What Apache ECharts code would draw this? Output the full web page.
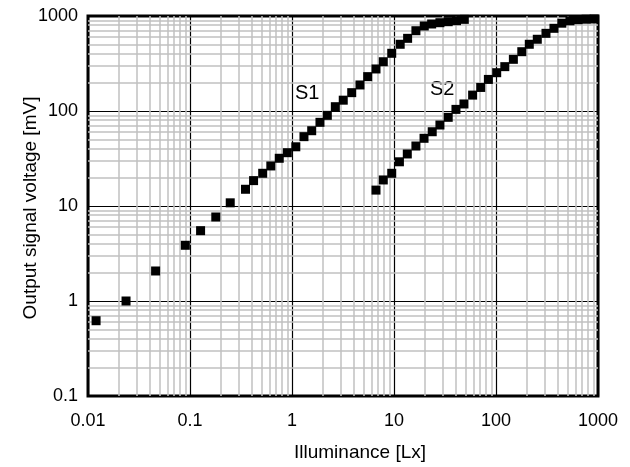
<!DOCTYPE html>
<html>
<head>
<meta charset="utf-8">
<script src="https://cdn.jsdelivr.net/npm/echarts@6/dist/echarts.min.js"></script>
<style>html,body{margin:0;padding:0;background:#fff}#c{width:630px;height:467px}</style>
</head>
<body>
<div id="c"></div>
<script>
// Series S1
var s1X = [0.012, 0.0236, 0.046, 0.09, 0.127, 0.179, 0.248, 0.35, 0.42, 0.516, 0.62, 0.75, 0.9, 1.09, 1.31, 1.56, 1.88, 2.22, 2.66, 3.18, 3.85, 4.64, 5.52, 6.66, 7.85, 9.5, 11.5, 13.6, 16.4, 19.8, 23.4, 28.2, 34, 41, 48.9];
var s1Y = [0.62, 1.0, 2.07, 3.86, 5.5, 7.66, 10.8, 15, 18.5, 22.1, 26.4, 31.8, 36.4, 42, 53.7, 62, 76, 90, 111, 130, 156, 188, 230, 277, 330, 405, 504, 582, 700, 785, 824, 850, 871, 893, 922];
// Series S2
var s2X = [6.66, 7.85, 9.5, 11.3, 13.5, 16.4, 19.7, 23.7, 28.2, 34, 40.5, 48.5, 59, 70.8, 84.2, 101.6, 122, 148, 179, 212, 254, 309, 370, 442, 531, 637, 764, 917];
var s2Y = [14.7, 18.8, 22.1, 29.2, 35.3, 42.8, 51.6, 60.5, 71.2, 85.8, 104, 118.6, 147, 177, 215, 253, 293, 350, 421, 504, 569, 657, 742, 840, 890, 915, 925, 930];
// Axis ticks
var xTicks = [0.01, 0.1, 1, 10, 100, 1000];
var yTicks = [0.1, 1, 10, 100, 1000];
var seriesLabels = ['S1', 'S2'];
var xTitle = 'Illuminance [Lx]';
var yTitle = 'Output signal voltage [mV]';

function pairs(xs, ys) { return xs.map(function (x, i) { return [x, ys[i]]; }); }
function minorVals(ticks) {
  var out = [];
  for (var i = 0; i < ticks.length - 1; i++) {
    for (var m = 2; m <= 9; m++) out.push(+(ticks[i] * m).toPrecision(6));
  }
  return out;
}
var minorLines = [];
minorVals(xTicks).forEach(function (v) { minorLines.push({ xAxis: v }); });
minorVals(yTicks).forEach(function (v) { minorLines.push({ yAxis: v }); });

var fmt = function (v) { return String(Number(v.toPrecision(6))); };
var font = 'Liberation Sans, Arial, sans-serif';

var chart = echarts.init(document.getElementById('c'), null, { renderer: 'canvas' });
chart.setOption({
  animation: false,
  backgroundColor: '#fff',
  grid: { left: 88, right: 32, top: 16, bottom: 71, show: true, borderColor: '#000', borderWidth: 3, backgroundColor: 'transparent', z: 5 },
  xAxis: {
    type: 'log', logBase: 10, min: xTicks[0], max: xTicks[xTicks.length - 1], interval: 1,
    axisLine: { show: false }, axisTick: { show: false },
    axisLabel: { formatter: fmt, fontFamily: font, fontSize: 18, color: '#000', margin: 16 },
    splitLine: { show: true, lineStyle: { color: '#000', width: 1.2 } },
    minorTick: { show: false }, minorSplitLine: { show: false }
  },
  yAxis: {
    type: 'log', logBase: 10, min: yTicks[0], max: yTicks[yTicks.length - 1], interval: 1,
    axisLine: { show: false }, axisTick: { show: false },
    axisLabel: { formatter: fmt, fontFamily: font, fontSize: 18, color: '#000', margin: 10 },
    splitLine: { show: true, lineStyle: { color: '#000', width: 1.2 } }
  },
  graphic: [
    { type: 'text', left: 295, top: 83, style: { text: seriesLabels[0], font: '20px ' + font, fill: '#000' } },
    { type: 'text', left: 430, top: 79, style: { text: seriesLabels[1], font: '20px ' + font, fill: '#000' } },
    { type: 'text', x: 360, y: 453, style: { text: xTitle, font: '19px ' + font, fill: '#000', align: 'center', verticalAlign: 'middle' } },
    { type: 'text', x: 31, y: 208, rotation: Math.PI / 2, style: { text: yTitle, font: '19px ' + font, fill: '#000', align: 'center', verticalAlign: 'middle' } }
  ],
  series: [
    {
      type: 'line', data: [], z: 1, silent: true,
      markLine: { silent: true, symbol: 'none', label: { show: false }, animation: false,
        lineStyle: { color: '#c0c0c0', width: 1.5, type: 'solid' }, data: minorLines }
    },
    { name: 'S1', type: 'scatter', data: pairs(s1X, s1Y), symbol: 'rect', symbolSize: 9, itemStyle: { color: '#000', opacity: 1 }, z: 10 },
    { name: 'S2', type: 'scatter', data: pairs(s2X, s2Y), symbol: 'rect', symbolSize: 9, itemStyle: { color: '#000', opacity: 1 }, z: 10 }
  ]
});
</script>
</body>
</html>
